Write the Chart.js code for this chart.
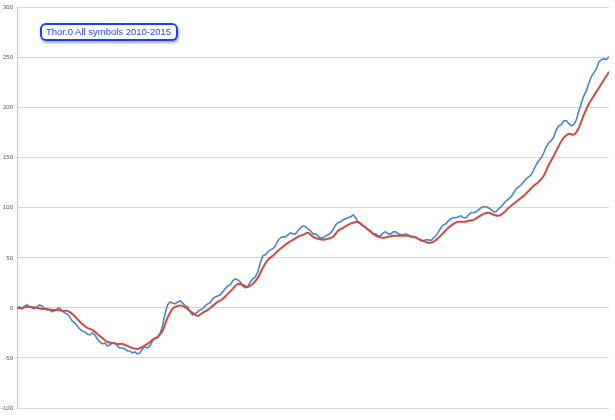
<!DOCTYPE html>
<html>
<head>
<meta charset="utf-8">
<script src="https://cdn.jsdelivr.net/npm/chart.js@4"></script>
<style>
  body { margin: 0; background: #fff; }
  #wrap { position: relative; width: 615px; height: 420px; }
  #title {
    position: absolute; left: 40px; top: 23px;
    padding: 1px 5px 2px 4px;
    border: 2px solid #1f3ff2; border-radius: 6px;
    color: #2b46e6; background: #fff;
    font: 9.5px "Liberation Sans", Arial, sans-serif;
    line-height: 11px;
    box-shadow: 1px 2px 3px rgba(0,0,0,0.35);
    white-space: nowrap;
  }
</style>
</head>
<body>
<div id="wrap">
  <canvas id="chart" width="615" height="420"></canvas>
  <div id="title">Thor.0 All symbols 2010-2015</div>
</div>
<script>
// Sampling steps along the x axis (2010 to 2015, no tick labels shown)
const steps = [];
for (let i = 0; i < 119; i++) steps.push(i);

// Blue series: equity curve at each step
const equity = [
  0, -1, 3, 0, 1, 2, -2, -4, -1, -3,
  -6, -13, -18, -23, -26, -25, -31, -36, -38, -35,
  -38, -40, -43, -45, -46, -41, -40, -33, -30, -18,
  3, 5, 6, 5, 1, -7, -4, -1, 4, 9,
  12, 16, 22, 27, 28, 22, 21, 29, 36, 52,
  56, 59, 67, 71, 73, 74, 77, 82, 79, 74,
  72, 70, 73, 78, 85, 88, 90, 93, 85, 82,
  78, 74, 72, 75, 74, 76, 74, 73, 73, 71,
  69, 67, 68, 70, 76, 83, 87, 90, 91, 90,
  93, 95, 98, 101, 100, 96, 99, 104, 109, 115,
  121, 126, 131, 138, 147, 155, 165, 171, 182, 187,
  184, 183, 197, 212, 225, 235, 246, 249, 251
];

// Blue series: readings half way between two steps
const equityMid = [
  1, 2, 1, -1, 3, -1, -2, -3, 0, -5,
  -9, -15, -21, -24, -27, -27, -34, -35, -37, -35,
  -40, -41, -43, -44, -45, -39, -38, -30, -26, -6,
  6, 4, 7, 2, -4, -6, -2, 2, 5, 11,
  13, 19, 23, 29, 26, 20, 26, 31, 45, 53,
  58, 62, 70, 71, 75, 74, 80, 81, 77, 74,
  70, 72, 75, 83, 86, 89, 91, 90, 84, 81,
  77, 74, 72, 76, 74, 76, 73, 74, 71, 71,
  67, 68, 67, 72, 80, 84, 89, 90, 92, 90,
  95, 96, 100, 101, 98, 96, 101, 107, 111, 119,
  123, 129, 133, 143, 150, 161, 167, 178, 183, 187,
  182, 188, 205, 217, 231, 239, 248, 248
];

// Red series: moving average
const average = [
  0, 0, 1, 1, 0, -1, -1, -2, -2, -3,
  -3, -6, -11, -16, -20, -22, -26, -30, -34, -35,
  -36, -36, -38, -40, -41, -39, -36, -32, -29, -23,
  -10, -1, 2, 2, -1, -5, -8, -5, -2, 2,
  6, 9, 14, 19, 24, 23, 21, 24, 30, 40,
  48, 52, 57, 61, 65, 68, 71, 73, 75, 71,
  69, 68, 69, 71, 77, 80, 83, 85, 86, 82,
  78, 74, 71, 70, 71, 72, 72, 72, 72, 71,
  69, 67, 65, 66, 70, 75, 80, 84, 86, 86,
  87, 88, 91, 94, 95, 93, 92, 95, 100, 104,
  108, 112, 117, 122, 126, 132, 143, 152, 162, 170,
  174, 173, 180, 193, 204, 212, 220, 228, 236
];

const yTicks = [-100, -50, 0, 50, 100, 150, 200, 250, 300];

// interleave step readings with half-step readings
const equityPoints = [];
steps.forEach((s, i) => {
  equityPoints.push({ x: s, y: equity[i] });
  if (i < equityMid.length) equityPoints.push({ x: s + 0.5, y: equityMid[i] });
});
const averagePoints = steps.map((s, i) => ({ x: s, y: average[i] }));

new Chart(document.getElementById('chart'), {
  type: 'line',
  data: {
    datasets: [
      { data: averagePoints, borderColor: '#cf4a44', borderWidth: 2, pointRadius: 0, tension: 0.3 },
      { data: equityPoints, borderColor: '#4a86c6', borderWidth: 1.6, pointRadius: 0, tension: 0 }
    ]
  },
  options: {
    responsive: false,
    animation: false,
    layout: { padding: { left: 0, right: 6, top: 0, bottom: 12 } },
    plugins: { legend: { display: false }, tooltip: { enabled: false } },
    scales: {
      x: { type: 'linear', display: false, min: steps[0], max: steps[steps.length - 1] },
      y: {
        min: yTicks[0],
        max: yTicks[yTicks.length - 1],
        afterBuildTicks: function(scale) {
          scale.ticks = yTicks.map(v => ({ value: v }));
        },
        afterFit: function(scale) { scale.width = 17; },
        ticks: {
          padding: 4,
          color: '#555',
          font: { family: 'Liberation Sans', size: 6 }
        },
        grid: { color: '#d6d6d6', lineWidth: 1, drawTicks: false },
        border: { color: '#c8c8c8' }
      }
    }
  }
});
</script>
</body>
</html>
